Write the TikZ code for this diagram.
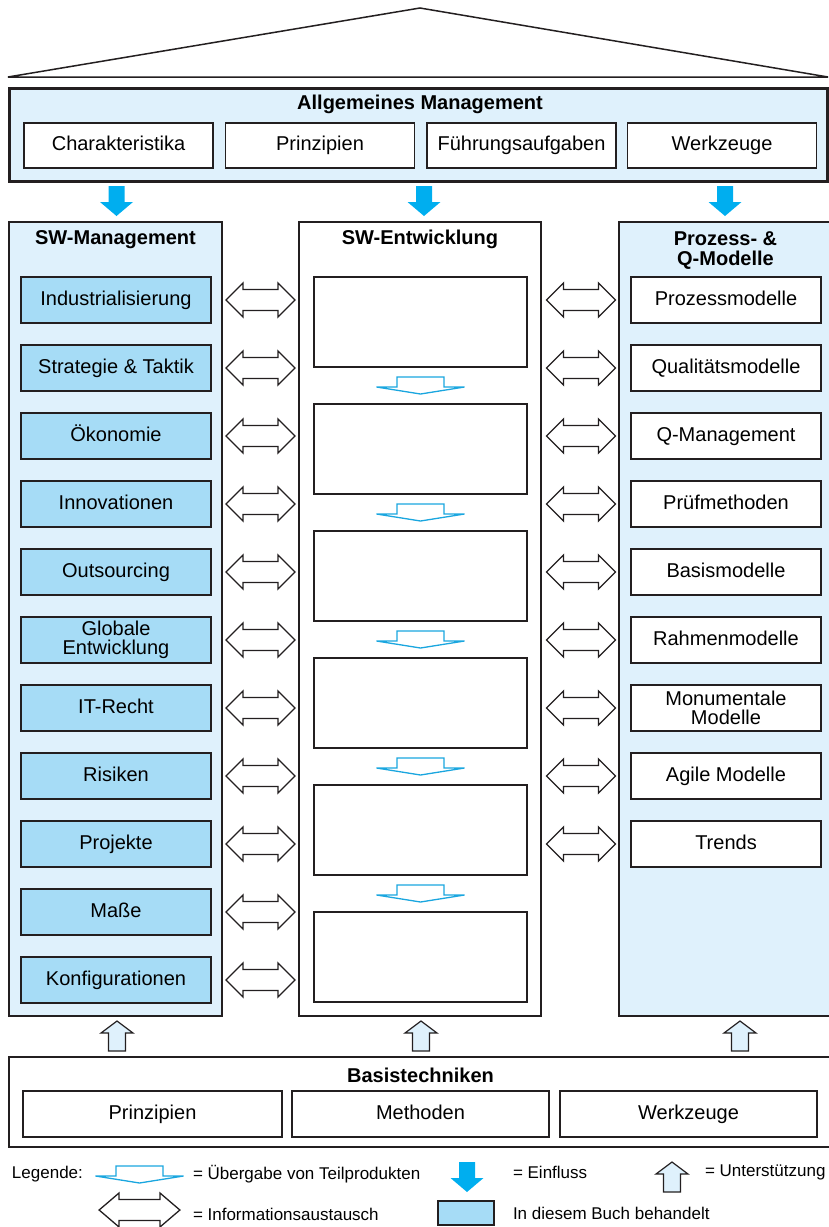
\documentclass[tikz,border=0pt]{standalone}
\usepackage{fontspec}
\setmainfont{Liberation Sans}
\usetikzlibrary{calc}
\definecolor{ink}{HTML}{231F20}
\definecolor{paleblue}{HTML}{DFF1FC}
\definecolor{bookblue}{HTML}{A6DCF6}
\definecolor{flowblue}{HTML}{00AEEF}
\definecolor{handblue}{HTML}{1AA6DF}
\begin{document}
\begin{tikzpicture}[
            x=1pt,
            y=-1pt,
            every node/.style={inner sep=0pt, outer sep=0pt},
            frame/.style={draw=ink, line width=1.5pt},
            box/.style={draw=ink, line width=1.6pt, fill=white, align=center,
                minimum width=190pt, minimum height=46pt,
                font=\fontsize{20}{18.5}\selectfont},
            line/.style={text height=14.5pt, text depth=4.5pt},
            pair/.style={},
            topic/.style={box, fill=bookblue},
            heading/.style={align=center, font=\bfseries\fontsize{20}{20}\selectfont},
            legend/.style={anchor=west, font=\fontsize{17}{17}\selectfont},
            pics/influence/.style={code={
                \fill[flowblue] (-8,0) -- (8,0) -- (8,16) -- (16.5,16) -- (0,30)
                    -- (-16.5,16) -- (-8,16) -- cycle;}},
            pics/support/.style={code={
                \draw[ink, line width=1.2pt, fill=paleblue] (-8.5,0) -- (-8.5,-18)
                    -- (-16,-18) -- (0,-30) -- (16,-18) -- (8.5,-18) -- (8.5,0) -- cycle;}},
            pics/exchange/.style={code={
                \draw[ink, line width=1.3pt, fill=white] (-34.5,0) -- (-17.5,-17)
                    -- (-17.5,-10.5) -- (17.5,-10.5) -- (17.5,-17) -- (34.5,0)
                    -- (17.5,17) -- (17.5,10.5) -- (-17.5,10.5) -- (-17.5,17) -- cycle;}},
            pics/handover/.style={code={
                \draw[handblue, line width=1.3pt, fill=white] (-44,1.5) -- (-23.5,1.5)
                    -- (-23.5,-8.5) -- (23.5,-8.5) -- (23.5,1.5) -- (44,1.5)
                    -- (0,8.5) -- cycle;}}
        ]
        \useasboundingbox (0,0) rectangle (828,1227);

        \draw[frame] (8,77) -- (420,8) -- (828,77) -- cycle;

        \node[draw=ink, line width=3pt, fill=paleblue, minimum width=818pt,
            minimum height=93pt, anchor=north west] (am) at (9,88) {};
        \node[heading] (amtitle) at (420,104.5) {Allgemeines Management};
        \node[box, line, minimum width=189pt, minimum height=45pt] (am1) at (118.5,145.5) {Charakteristika};
        \node[box, line, minimum width=189pt, minimum height=45pt] (am2) at (320,145.5) {Prinzipien};
        \node[box, line, minimum width=189pt, minimum height=45pt] (am3) at (521.5,145.5) {Führungsaufgaben};
        \node[box, line, minimum width=189pt, minimum height=45pt] (am4) at (722,145.5) {Werkzeuge};

        \node[frame, fill=paleblue, minimum width=213pt, minimum height=794pt,
            anchor=north west] (swm) at (9,222) {};
        \node[frame, fill=white, minimum width=242pt, minimum height=794pt,
            anchor=north west] (swe) at (299,222) {};
        \node[frame, fill=paleblue, minimum width=211pt, minimum height=794pt,
            anchor=north west] (pqm) at (619,222) {};
        \node[heading] (swmtitle) at ($(swm.north)+(0,17.5)$) {SW-Management};
        \node[heading] (swetitle) at ($(swe.north)+(0,17.5)$) {SW-Entwicklung};
        \node[heading] (pqmtitle) at ($(pqm.north)+(1,29)$) {Prozess- \&\\Q-Modelle};

        \pic at ($(swm.north)+(1,-36)$) {influence};
        \pic at ($(swe.north)+(4,-36)$) {influence};
        \pic at ($(pqm.north)+(0.5,-36)$) {influence};

        \foreach \name/\kind [count=\i] in {Industrialisierung/line, Strategie \& Taktik/line,
            Ökonomie/line, Innovationen/line, Outsourcing/line, {Globale\\Entwicklung}/pair,
            IT-Recht/line, Risiken/line, Projekte/line, Maße/line, Konfigurationen/line} {
            \node[topic, \kind] (sm\i) at (116,232+68*\i) {\name};
            \pic at ($(sm\i.east)+(49.5,0)$) {exchange};
        }

        \foreach \name/\kind [count=\i] in {Prozessmodelle/line, Qualitätsmodelle/line,
            Q-Management/line, Prüfmethoden/line, Basismodelle/line, Rahmenmodelle/line,
            {Monumentale\\Modelle}/pair, Agile Modelle/line, Trends/line} {
            \node[box, \kind] (pm\i) at (726,232+68*\i) {\name};
            \pic at ($(pm\i.west)+(-50,0)$) {exchange};
        }

        \foreach \i in {1,...,6}
            \node[box, minimum width=213pt, minimum height=90pt] (dev\i) at (420.5,195+127*\i) {};
        \foreach \i [count=\j from 2] in {1,...,5}
            \pic at ($(dev\i.south)!0.5!(dev\j.north)$) {handover};

        \pic at ($(swm.south)+(1.5,35)$) {support};
        \pic at ($(swe.south)+(1,35)$) {support};
        \pic at ($(pqm.south)+(15.5,35)$) {support};

        \node[draw=ink, line width=1.6pt, minimum width=821pt, minimum height=90pt,
            anchor=north west] (bt) at (9,1057) {};
        \node[heading] (bttitle) at (420.5,1075) {Basistechniken};
        \node[box, line, minimum width=259pt] (bt1) at (152.5,1114) {Prinzipien};
        \node[box, line, minimum width=257pt] (bt2) at (420.5,1114) {Methoden};
        \node[box, line, minimum width=257pt] (bt3) at (688.5,1114) {Werkzeuge};

        \node[legend] (lgtitle) at (12,1174) {Legende:};
        \pic at (139.5,1174.5) {handover};
        \node[legend] (lghand) at (193,1174) {= Übergabe von Teilprodukten};
        \pic at (467,1162) {influence};
        \node[legend] (lgflow) at (513,1172) {= Einfluss};
        \pic at (672,1192) {support};
        \node[legend] (lgsupp) at (705,1172) {= Unterstützung};
        \pic[xscale=1.17] at (139.5,1210) {exchange};
        \node[legend] (lginfo) at (193,1214) {= Informationsaustausch};
        \node[draw=ink, line width=1.6pt, fill=bookblue, minimum width=56pt,
            minimum height=24pt] (lgbox) at (466,1213) {};
        \node[legend] (lgbook) at (513,1213) {In diesem Buch behandelt};
    \end{tikzpicture}
\end{document}
